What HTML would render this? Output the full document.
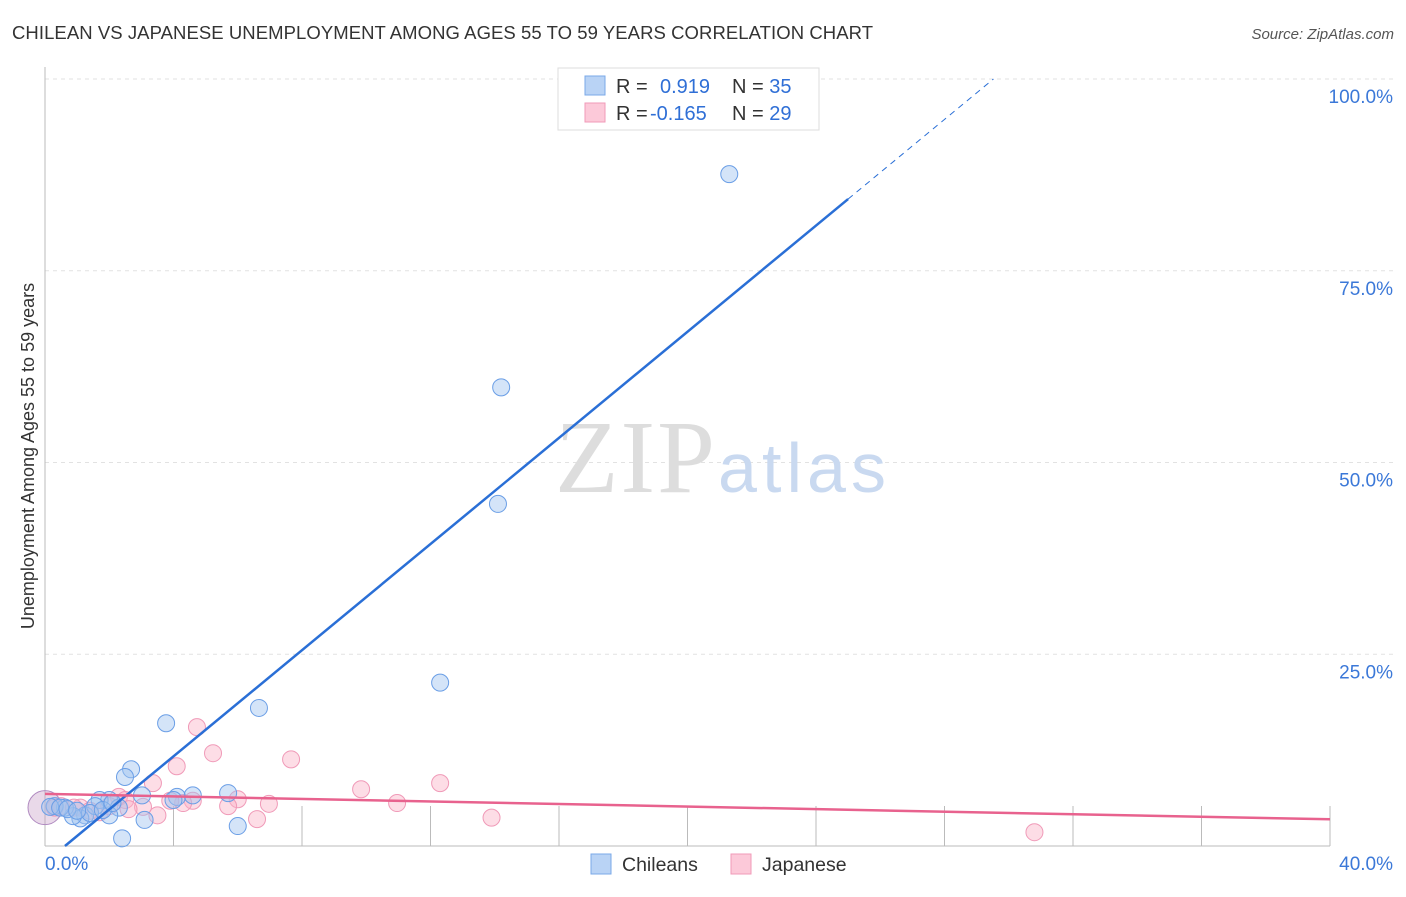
<!DOCTYPE html>
<html><head><meta charset="utf-8"><style>
body{margin:0;background:#fff;font-family:"Liberation Sans",sans-serif;}
</style></head><body>
<svg width="1406" height="892" xmlns="http://www.w3.org/2000/svg">
<text x="12" y="39" font-size="18.5" fill="#333" textLength="861">CHILEAN VS JAPANESE UNEMPLOYMENT AMONG AGES 55 TO 59 YEARS CORRELATION CHART</text>
<text x="1394" y="39" font-size="15" fill="#555" font-style="italic" text-anchor="end">Source: ZipAtlas.com</text>
<text x="0" y="0" transform="translate(34,456) rotate(-90)" font-size="18" fill="#333" text-anchor="middle">Unemployment Among Ages 55 to 59 years</text>
<g id="grid"></g>
<text x="555" y="492" font-size="104" font-family="Liberation Serif,serif" fill="#ddd" textLength="160">ZIP</text>
<text x="718" y="492" font-size="70" fill="#c9d9f0" textLength="168">atlas</text>
<g id="marks"></g>
<g>
<rect x="558" y="68" width="261" height="62" fill="#fff" stroke="#ddd"/>
<rect x="585" y="76" width="20" height="19" fill="#b9d3f5" stroke="#7aa8e8"/>
<rect x="585" y="103" width="20" height="19" fill="#fcc9d9" stroke="#f09ab8"/>
<text x="616" y="93" font-size="20" fill="#333">R = <tspan x="660" fill="#2f6fd6">0.919</tspan><tspan x="732" fill="#333">N = </tspan><tspan fill="#2f6fd6">35</tspan></text>
<text x="616" y="120" font-size="20" fill="#333">R = <tspan x="650" fill="#2f6fd6">-0.165</tspan><tspan x="732" fill="#333">N = </tspan><tspan fill="#2f6fd6">29</tspan></text>
</g>
<g>
<rect x="591" y="854" width="20" height="20" fill="#b9d3f5" stroke="#7aa8e8"/>
<text x="622" y="871" font-size="19.5" fill="#333">Chileans</text>
<rect x="731" y="854" width="20" height="20" fill="#fcc9d9" stroke="#f09ab8"/>
<text x="762" y="871" font-size="19.5" fill="#333">Japanese</text>
</g>
</svg>
<script>
const yTicks=[25,50,75,100];
const xTickCount=10;
const chileX=[21.3,14.2,14.1,12.3,6.66,3.77,2.68,2.49,3.02,4.11,4.6,5.7,4.0,3.1,6.0,2.4,2.0,1.7,2.3,2.0,1.25,1.1,0.87,0.62,0.3,0.16,0.47,1.56,1.4,1.8,2.1,0.7,1.0];
const chileY=[87.6,59.8,44.6,21.3,18.0,16.0,10.0,9.0,6.6,6.4,6.6,6.9,6.0,3.4,2.6,1.0,6.0,6.0,5.0,4.0,4.0,3.6,3.9,5.0,5.2,5.1,5.0,5.2,4.3,4.7,5.6,4.8,4.6];
const japX=[4.73,5.23,7.66,4.1,12.3,9.84,3.36,2.3,2.5,6.0,6.97,10.96,4.6,4.3,3.9,5.7,3.5,3.05,6.6,13.9,30.8,1.1,1.7,0.5,2.0,1.4,0.9,2.6,0.3];
const japY=[15.5,12.1,11.3,10.4,8.2,7.4,8.2,6.4,6.0,6.1,5.5,5.6,5.9,5.6,5.9,5.2,4.0,5.1,3.5,3.7,1.8,5.0,4.4,5.2,5.2,4.6,5.0,4.8,5.0];
const chileTrend=[-2.15,3.46];
const japTrend=[6.8,-0.083];
const X=v=>45+v*32.125, Y=v=>846-v*7.67;
const ns="http://www.w3.org/2000/svg";
function mk(t,a,p){const e=document.createElementNS(ns,t);for(const k in a)e.setAttribute(k,a[k]);p.appendChild(e);return e;}
const g=document.getElementById('grid'), m=document.getElementById('marks');
for(const t of yTicks){
 const l=mk('line',{x1:45,x2:1395,y1:Y(t),y2:Y(t),stroke:'#e2e2e2','stroke-dasharray':'4,4'},g);
 
 
 const tx=mk('text',{x:1393,y:Y(t)+24,'font-size':19,fill:'#3b78d8','text-anchor':'end'},g);
 tx.textContent=t.toFixed(1)+'%';
 
 
}
mk('line',{x1:45,x2:45,y1:67,y2:846,stroke:'#bbb'},g);
mk('line',{x1:45,x2:1330,y1:846,y2:846,stroke:'#bbb'},g);
for(let i=1;i<=xTickCount;i++){mk('line',{x1:X(i*4),x2:X(i*4),y1:806,y2:846,stroke:'#bbb'},g);}
const x0=mk('text',{x:45,y:870,'font-size':19,fill:'#3b78d8'},g);x0.textContent='0.0%';


const x1=mk('text',{x:1393,y:870,'font-size':19,fill:'#3b78d8','text-anchor':'end'},g);x1.textContent='40.0%';


mk('circle',{cx:X(0),cy:Y(5),r:17,fill:'rgba(200,160,200,0.4)',stroke:'#b08ac0'},m);
for(let i=0;i<japX.length;i++){const c=mk('circle',{cx:X(japX[i]),cy:Y(japY[i]),r:8.5,fill:'rgba(250,180,200,0.45)',stroke:'#f09ab8'},m);

}
for(let i=0;i<chileX.length;i++){const c=mk('circle',{cx:X(chileX[i]),cy:Y(chileY[i]),r:8.5,fill:'rgba(160,195,240,0.45)',stroke:'#6a9ee6'},m);

}
const cx0=-chileTrend[0]/chileTrend[1];
const l1=mk('line',{x1:X(cx0),y1:Y(0),x2:X(25),y2:Y(chileTrend[0]+chileTrend[1]*25),stroke:'#2a6fd6','stroke-width':2.5},m);


const cx1=(100-chileTrend[0])/chileTrend[1];
mk('line',{x1:X(25),y1:Y(chileTrend[0]+chileTrend[1]*25),x2:X(cx1),y2:Y(100),stroke:'#2a6fd6','stroke-width':1,'stroke-dasharray':'6,5'},m);
const l2=mk('line',{x1:X(0),y1:Y(japTrend[0]),x2:X(40),y2:Y(japTrend[0]+japTrend[1]*40),stroke:'#e8628e','stroke-width':2.5},m);


</script>
</body></html>
